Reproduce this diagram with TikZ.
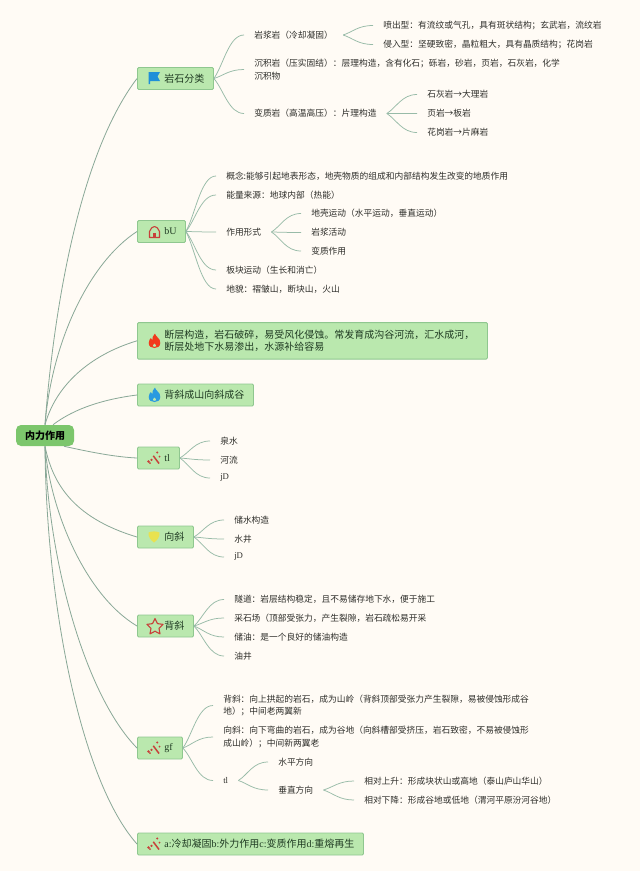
\documentclass[tikz,border=0pt]{standalone}
\usepackage{fontspec}
\setmainfont{Noto Sans CJK SC}
\newfontfamily\lat{Liberation Serif}
\usetikzlibrary{calc}
\newlength\px \setlength\px{0.75pt}
\definecolor{bg}{HTML}{FFFBF5}
\definecolor{boxfill}{HTML}{BAE8AE}
\definecolor{boxline}{HTML}{8FC78F}
\definecolor{rootfill}{HTML}{7CC66C}
\definecolor{linkc}{HTML}{98BBA8}
\definecolor{subtxt}{HTML}{2E2E2A}
\definecolor{maintxt}{HTML}{1F3A22}
\definecolor{iconred}{HTML}{C8403A}
\definecolor{flamered}{HTML}{F23A1C}
\definecolor{flameblue}{HTML}{2A9AE0}
\definecolor{flagblue}{HTML}{1F8FD8}
\definecolor{iconyellow}{HTML}{E8E250}
\tikzset{
  prim/.style={draw=boxline,line width=0.9\px,fill=boxfill,rounded corners=1.2\px,anchor=west,inner xsep=0pt,inner ysep=0pt,align=left,text=maintxt,font=\fontsize{7.5pt}{12.2\px}\selectfont},
  sub/.style={anchor=west,inner xsep=10\px,inner ysep=1\px,align=left,text=subtxt,font=\fontsize{6.55pt}{12.6\px}\selectfont},
  rootbox/.style={draw=none,fill=rootfill,rounded corners=5\px,minimum width=58\px,minimum height=21\px,inner sep=0pt,font=\fontsize{7.5pt}{9pt}\selectfont\bfseries,text=black},
  link/.style={draw=linkc,line width=0.75\px},
  mainlink/.style={draw=linkc!90!black,line width=0.8\px}
}
% parent-to-child connector: an S curve, flat where it meets the child
\newcommand{\br}[2]{\draw[link] (#1.east) .. controls ($(#1.east)!0.32!(#2.west)$) and ($(#2.west)+(-15,0)$) .. (#2.west);}
\newcommand{\pbox}[5]{\node[prim,text width=#2\px,minimum height=#4\px] (#1) at (137,#3) {\hspace*{27\px}#5};}
\newcommand{\flame}[3]{\begin{scope}[shift={(#1,#2)}]
 \fill[#3] (0.5,-7.5) .. controls (1,-4) and (6,-3) .. (5.8,2) .. controls (5.6,5.5) and (3,7) .. (0,7) .. controls (-3,7) and (-5.8,5.5) .. (-5.8,2) .. controls (-5.8,-0.5) and (-4.5,-2) .. (-3.6,-3) .. controls (-3.4,-1.5) and (-3,-1) .. (-2.2,-0.6) .. controls (-2.4,-3) and (-1.5,-6) .. (0.5,-7.5) -- cycle;
 \fill[boxfill] (0,2.5) .. controls (1,3.5) and (1.7,4.2) .. (1.5,5.2) .. controls (1,6) and (-1,6) .. (-1.5,5.2) .. controls (-1.7,4.2) and (-1,3.5) .. (0,2.5) -- cycle;
\end{scope}}
\newcommand{\wand}[2]{\begin{scope}[shift={(#1,#2)}]
 \fill[iconred] (-6,3.5) circle (1.3) (-3,1.8) circle (1.3) (-4.5,5.2) circle (1) (2.8,-5.5) circle (1.1) (5,-1.5) circle (1);
 \draw[iconred,line width=1.5\px] (-1.2,-2.2) -- (4.5,5.5);
\end{scope}}
\begin{document}
\begin{tikzpicture}[x=0.75pt,y=-0.75pt]
\useasboundingbox (0,0) rectangle (640,871);
\fill[bg] (0,0) rectangle (640,871);

% primary boxes
\pbox{rock}{76}{78.5}{22}{岩石分类}
\pbox{bu}{48}{231.5}{22}{{\lat bU}}
\pbox{fault}{350}{340.8}{36.5}{断层构造，岩石破碎，易受风化侵蚀。常发育成沟谷河流，汇水成河，\\\hspace*{27\px}断层处地下水易渗出，水源补给容易}
\pbox{anti}{116}{395}{22}{背斜成山向斜成谷}
\pbox{tl}{42}{458}{22}{{\lat tl}}
\pbox{syn}{56}{537}{22}{向斜}
\pbox{back}{56}{626}{22}{背斜}
\pbox{gf}{45}{748}{22}{{\lat gf}}
\pbox{abcd}{226}{844}{22}{{\lat a:}冷却凝固{\lat b:}外力作用{\lat c:}变质作用{\lat d:}重熔再生}
\node[rootbox] (root) at (45,435.5) {内力作用};

% root connectors
\draw[mainlink] (root.north) .. controls (52,330) and (75,160) .. (rock.west);
\draw[mainlink] (root.north) .. controls (52,340) and (90,262) .. (bu.west);
\draw[mainlink] (root.north) .. controls (56,385) and (90,355) .. (fault.west);
\draw[mainlink] ([xshift=8\px]root.north) .. controls (75,408) and (105,399) .. (anti.west);
\draw[mainlink] ([xshift=19\px]root.south) .. controls (90,452) and (115,457) .. (tl.west);
\draw[mainlink] (root.south) .. controls (52,480) and (70,517) .. (syn.west);
\draw[mainlink] (root.south) .. controls (50,510) and (85,595) .. (back.west);
\draw[mainlink] (root.south) .. controls (48,560) and (85,695) .. (gf.west);
\draw[mainlink] (root.south) .. controls (46,600) and (80,780) .. (abcd.west);

% rock branch
\node[sub] (r1) at (244,35) {岩浆岩（冷却凝固）};
\node[sub] (r11) at (373,25.5) {喷出型：有流纹或气孔，具有斑状结构；玄武岩，流纹岩};
\node[sub] (r12) at (373,44.5) {侵入型：坚硬致密，晶粒粗大，具有晶质结构；花岗岩};
\node[sub] (r2) at (244,69.5) {沉积岩（压实固结）：层理构造，含有化石；砾岩，砂岩，页岩，石灰岩，化学\\沉积物};
\node[sub] (r3) at (244,113.5) {变质岩（高温高压）：片理构造};
\node[sub] (r31) at (417,94.5) {石灰岩→大理岩};
\node[sub] (r32) at (417,113.5) {页岩→板岩};
\node[sub] (r33) at (417,132.5) {花岗岩→片麻岩};
\br{rock}{r1}\br{rock}{r2}\br{rock}{r3}
\br{r1}{r11}\br{r1}{r12}
\br{r3}{r31}\br{r3}{r32}\br{r3}{r33}

% bU branch
\node[sub] (b1) at (216,176) {概念:能够引起地表形态，地壳物质的组成和内部结构发生改变的地质作用};
\node[sub] (b2) at (216,195) {能量来源：地球内部（热能）};
\node[sub] (b3) at (216,232) {作用形式};
\node[sub] (b31) at (301,213.5) {地壳运动（水平运动，垂直运动）};
\node[sub] (b32) at (301,232.5) {岩浆活动};
\node[sub] (b33) at (301,251) {变质作用};
\node[sub] (b4) at (216,270) {板块运动（生长和消亡）};
\node[sub] (b5) at (216,289) {地貌：褶皱山，断块山，火山};
\br{bu}{b1}\br{bu}{b2}\br{bu}{b3}\br{bu}{b4}\br{bu}{b5}
\br{b3}{b31}\br{b3}{b32}\br{b3}{b33}

% tl branch
\node[sub] (t1) at (210,441) {泉水};
\node[sub] (t2) at (210,460) {河流};
\node[sub] (t3) at (210,478) {{\lat jD}};
\br{tl}{t1}\br{tl}{t2}\br{tl}{t3}

% syncline branch
\node[sub] (s1) at (224,520) {储水构造};
\node[sub] (s2) at (224,539) {水井};
\node[sub] (s3) at (224,557) {{\lat jD}};
\br{syn}{s1}\br{syn}{s2}\br{syn}{s3}

% anticline branch
\node[sub] (a1) at (224,599.5) {隧道：岩层结构稳定，且不易储存地下水，便于施工};
\node[sub] (a2) at (224,618) {采石场（顶部受张力，产生裂隙，岩石疏松易开采};
\node[sub] (a3) at (224,637) {储油：是一个良好的储油构造};
\node[sub] (a4) at (224,656) {油井};
\br{back}{a1}\br{back}{a2}\br{back}{a3}\br{back}{a4}

% gf branch
\node[sub] (g1) at (213,705.5) {背斜：向上拱起的岩石，成为山岭（背斜顶部受张力产生裂隙，易被侵蚀形成谷\\地）；中间老两翼新};
\node[sub] (g2) at (213,737) {向斜：向下弯曲的岩石，成为谷地（向斜槽部受挤压，岩石致密，不易被侵蚀形\\成山岭）；中间新两翼老};
\node[sub] (g3) at (213,780.5) {{\lat tl}};
\node[sub] (g31) at (268,762) {水平方向};
\node[sub] (g32) at (268,790) {垂直方向};
\node[sub] (g321) at (354,781) {相对上升：形成块状山或高地（泰山庐山华山）};
\node[sub] (g322) at (354,800) {相对下降：形成谷地或低地（渭河平原汾河谷地）};
\br{gf}{g1}\br{gf}{g2}\br{gf}{g3}
\br{g3}{g31}\br{g3}{g32}
\br{g32}{g321}\br{g32}{g322}

% icons
\fill[flagblue] (148.5,72) -- (160,72) -- (157.5,76.5) -- (160,81) -- (150,81) -- (150,84) -- (148.5,84) -- cycle;
\begin{scope}[shift={(154.5,232)}]
 \draw[iconred,line width=1.1\px,line join=round] (-5,5.5) -- (-5,-0.5) .. controls (-4,-3.5) and (-2,-5.5) .. (0,-5.5) .. controls (2,-5.5) and (4,-3.5) .. (5,-0.5) -- (5,5.5) -- cycle;
 \fill[iconred] (-1.8,5.5) rectangle (1.8,1);
\end{scope}
\flame{154.5}{341}{flamered}
\flame{154.5}{395}{flameblue}
\wand{154.5}{458}
\begin{scope}[shift={(154,537)}]
 \fill[iconyellow] (-5.5,-4.5) .. controls (-2,-6) and (2,-6) .. (5.5,-4.5) .. controls (6,0) and (3,3.5) .. (0,5.5) .. controls (-3,3.5) and (-6,0) .. (-5.5,-4.5) -- cycle;
\end{scope}
\begin{scope}[shift={(155,627)}]
 \draw[iconred,line width=1.1\px,line join=round] (-90:8.5) -- (-54:4.2) -- (-18:8.5) -- (18:4.2) -- (54:8.5) -- (90:4.2) -- (126:8.5) -- (162:4.2) -- (198:8.5) -- (234:4.2) -- cycle;
\end{scope}
\wand{154.5}{748}
\wand{154.5}{844}
\end{tikzpicture}
\end{document}
